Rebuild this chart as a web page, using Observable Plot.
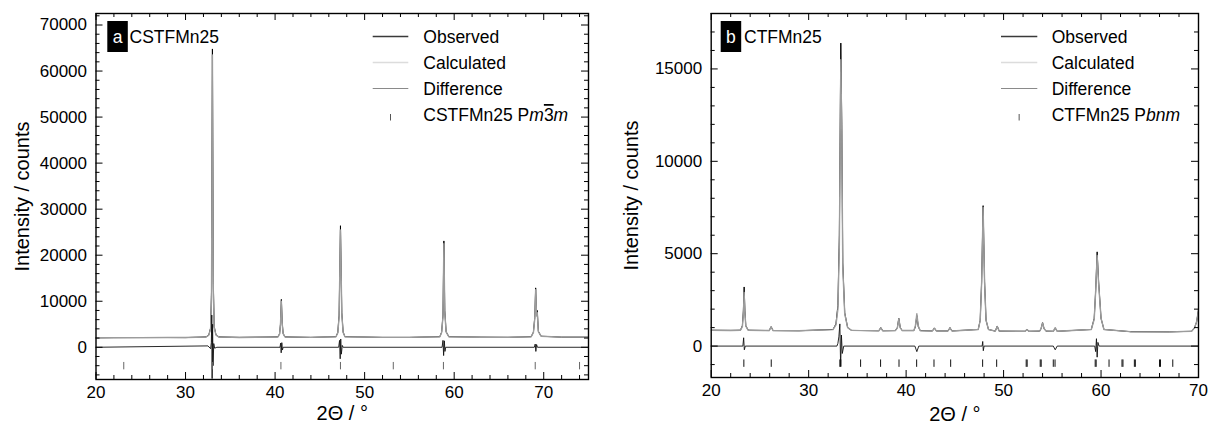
<!DOCTYPE html>
<html><head><meta charset="utf-8">
<script src="https://cdn.jsdelivr.net/npm/d3@7"></script>
<script src="https://cdn.jsdelivr.net/npm/@observablehq/plot@0.6"></script>
<style>
body{margin:0;background:#fff;}
#wrap{display:flex;width:1216px;height:426px;overflow:hidden;}
svg{display:block;}
</style></head><body><div id="wrap"></div>
<script>
// ---------- Panel a: CSTFMn25 (Pm-3m) ----------
const thetaA = [20,22,25,28,30,32.3,32.6,32.8,32.9,33.0,33.1,33.2,33.4,33.7,36,40.3,40.5,40.6,40.7,40.8,40.9,41.1,44,46.8,47.0,47.15,47.3,47.45,47.6,47.8,52,55,58.4,58.6,58.75,58.85,58.95,59.1,59.4,63,66,68.6,68.85,69.0,69.1,69.2,69.28,69.4,69.7,72,75];
const obsA   = [2050,2080,2100,2120,2100,2250,2700,4200,12000,64800,14000,4500,2700,2250,2150,2250,2900,5000,10400,5200,3000,2250,2150,2300,3200,7000,26400,7500,3300,2300,2150,2150,2300,3300,7000,23100,8000,3400,2300,2200,2150,2300,3300,6500,12900,7000,8000,3500,2400,2200,2200];
const calcA  = [2080,2090,2100,2110,2110,2240,2650,4000,11000,63500,12500,4300,2650,2250,2130,2230,2850,4800,10000,5000,2950,2250,2140,2280,3100,6600,25500,7200,3200,2300,2150,2160,2290,3200,6700,22500,7600,3300,2300,2180,2180,2300,3200,6200,12500,6800,7500,3400,2400,2200,2200];
const diffThetaA = [20,32.5,32.8,32.88,32.93,32.97,33.02,33.07,33.15,33.25,33.5,40.55,40.62,40.68,40.75,40.82,40.9,47.1,47.2,47.27,47.33,47.4,47.5,47.6,58.65,58.75,58.82,58.9,58.97,59.05,68.95,69.05,69.12,69.2,69.3,75];
const diffA      = [0,300,-300,1000,7000,-6800,5000,-4000,800,-200,0,0,900,-1200,1000,-600,0,0,1500,-2500,1800,-1500,400,0,0,1500,-1800,1400,-900,0,0,700,-900,600,0,0];
const reflA = [23.1,33.0,40.65,47.3,53.2,58.8,69.05,74.0];
const xMajorA = [20,30,40,50,60,70];
const xMinorA = [22,24,26,28,32,34,36,38,42,44,46,48,52,54,56,58,62,64,66,68,72,74];
const yMajorA = [0,10000,20000,30000,40000,50000,60000,70000];
const yMinorA = [-6000,-4000,-2000,2000,4000,6000,8000,12000,14000,16000,18000,22000,24000,26000,28000,32000,34000,36000,38000,42000,44000,46000,48000,52000,54000,56000,58000,62000,64000,66000,68000,72000];

// ---------- Panel b: CTFMn25 (Pbnm) ----------
const thetaB = [20,22,23.0,23.2,23.3,23.38,23.46,23.55,23.8,25.95,26.15,26.35,29,32.5,32.8,33.0,33.15,33.3,33.4,33.5,33.7,34.0,34.4,37.2,37.4,37.6,38.9,39.1,39.25,39.4,39.6,40.8,40.95,41.1,41.25,41.45,42.7,42.9,43.1,44.3,44.5,44.7,47.4,47.6,47.75,47.9,48.05,48.2,48.45,49.15,49.35,49.55,52.2,52.4,52.6,53.7,53.85,54.0,54.15,54.35,55.1,55.3,55.5,59.0,59.3,59.45,59.6,59.75,60.0,60.3,63,67,69.3,69.6,69.8,70];
const obsB   = [860,850,860,1100,1900,3200,1900,1100,860,840,1050,840,830,900,1200,2200,6000,16400,12000,4500,1800,1000,850,830,1000,830,840,1000,1500,1000,840,840,1050,1650,1050,835,820,980,820,820,1000,820,900,1400,3500,7600,3500,1400,900,810,1080,810,800,900,800,810,950,1270,950,810,800,980,800,900,1500,3000,5100,3500,1500,900,780,770,800,1000,1300,1950];
const calcB  = [850,845,860,1050,1750,2900,1800,1080,855,840,1040,840,830,890,1150,2000,5500,15500,11500,4300,1750,1000,850,830,980,830,840,990,1480,990,840,840,1100,1750,1080,835,820,970,820,820,990,820,900,1380,3450,7500,3450,1400,900,810,1060,810,800,890,800,810,950,1250,950,810,800,1000,800,900,1450,3000,4900,3400,1500,900,780,770,800,1000,1300,1950];
const diffThetaB = [20,23.25,23.33,23.4,23.5,32.9,33.0,33.1,33.2,33.28,33.36,33.45,33.6,40.9,41.1,41.3,47.8,47.86,47.92,48.0,55.1,55.3,55.5,59.35,59.45,59.53,59.6,59.68,59.8,70];
const diffB      = [0,0,450,-200,0,0,150,500,1200,-1100,600,-400,0,0,-300,0,0,250,-250,0,0,-200,0,0,-300,400,-600,200,0,0];
const reflB = [23.35,26.16,33.2,33.3,35.33,37.38,39.27,41.08,42.86,44.57,47.85,49.29,52.32,52.42,53.76,53.86,55.1,55.28,59.4,59.5,60.82,62.15,62.25,63.42,63.52,66.0,66.1,67.36];
const xMajorB = [20,30,40,50,60,70];
const xMinorB = [22,24,26,28,32,34,36,38,42,44,46,48,52,54,56,58,62,64,66,68];
const yMajorB = [0,5000,10000,15000];
const yMinorB = [-1000,1000,2000,3000,4000,6000,7000,8000,9000,11000,12000,13000,14000,16000,17000,18000];

const legendLabels = ["Observed","Calculated","Difference"];
const FONT = "'Liberation Sans', Arial, Helvetica, sans-serif";

function makePanel(o) {
  const W = 608, H = 426;
  const iw = W - o.ml - o.mr, ih = H - o.mt - o.mb;
  const obs = o.theta.map((t, i) => ({t, v: o.obs[i]}));
  const calc = o.theta.map((t, i) => ({t, v: o.calc[i]}));
  const diff = o.dTheta.map((t, i) => ({t, v: o.diff[i]}));
  const svg = Plot.plot({
    width: W, height: H,
    marginLeft: o.ml, marginRight: o.mr, marginTop: o.mt, marginBottom: o.mb,
    style: {fontFamily: FONT, fontSize: "17px", background: "white", color: "black", overflow: "visible"},
    x: {domain: o.xDomain},
    y: {domain: o.yDomain},
    marks: [
      Plot.line(obs, {x: "t", y: "v", stroke: "#000", strokeWidth: 1, clip: true}),
      Plot.line(calc, {x: "t", y: "v", stroke: "#9c9c9c", strokeWidth: 1.4, clip: true}),
      Plot.line(diff, {x: "t", y: "v", stroke: "#111", strokeWidth: 0.9, clip: true}),
      Plot.ruleX(o.refl, {x: d => d, y1: o.reflTop, y2: o.reflBot, stroke: o.reflColor, strokeWidth: 1}),
      Plot.ruleX(o.xMajor, {x: d => d, insetTop: ih - 7, stroke: "black"}),
      Plot.ruleX(o.xMajor, {x: d => d, insetBottom: ih - 7, stroke: "black"}),
      Plot.ruleX(o.xMinor, {x: d => d, insetTop: ih - 4, stroke: "black"}),
      Plot.ruleX(o.xMinor, {x: d => d, insetBottom: ih - 4, stroke: "black"}),
      Plot.ruleY(o.yMajor, {y: d => d, insetRight: iw - 7, stroke: "black"}),
      Plot.ruleY(o.yMajor, {y: d => d, insetLeft: iw - 7, stroke: "black"}),
      Plot.ruleY(o.yMinor, {y: d => d, insetRight: iw - 4, stroke: "black"}),
      Plot.ruleY(o.yMinor, {y: d => d, insetLeft: iw - 4, stroke: "black"}),
      Plot.axisX(o.xMajor, {tickSize: 0, tickPadding: 6, fontSize: 17, label: null, tickFormat: d => String(d)}),
      Plot.axisY(o.yMajor, {tickSize: 0, tickPadding: 9, fontSize: 17, label: null, tickFormat: d => String(d)}),
      Plot.frame({stroke: "black", strokeWidth: 1.4}),
      Plot.text(["Intensity / counts"], {text: d => d, frameAnchor: "left", textAnchor: "middle", lineAnchor: "middle", dx: o.yTitleDx, rotate: -90, fontSize: 20}),
      Plot.text(["2\u0398 / \u00b0"], {text: d => d, frameAnchor: "bottom", textAnchor: "middle", lineAnchor: "middle", dy: o.xTitleDy, fontSize: 20})
    ]
  });
  const s = d3.select(svg);
  // panel label box
  s.append("rect").attr("x", o.boxX).attr("y", 21).attr("width", 20.5).attr("height", 31).attr("fill", "black");
  s.append("text").attr("x", o.boxX + 10.25).attr("y", 43).attr("text-anchor", "middle")
    .attr("fill", "white").attr("font-family", FONT).attr("font-size", 17.5).text(o.letter);
  s.append("text").attr("x", o.nameX).attr("y", 43).attr("text-anchor", "start").attr("font-family", FONT).attr("font-size", 17.5)
    .attr("fill", "black").text(o.name);
  // legend
  const lg = s.append("g").attr("font-family", FONT).attr("font-size", 17.5).attr("fill", "black").attr("text-anchor", "start");
  const lineStyles = [["#3a3a3a", 1.6], ["#dcdcdc", 1.6], ["#8a8a8a", 1.1]];
  const rowY = [43, 69, 95, 121];
  legendLabels.forEach((lab, i) => {
    lg.append("line").attr("x1", o.legLineX1).attr("x2", o.legLineX2)
      .attr("y1", rowY[i] - 6.5).attr("y2", rowY[i] - 6.5)
      .attr("stroke", lineStyles[i][0]).attr("stroke-width", lineStyles[i][1]);
    lg.append("text").attr("x", o.legTextX).attr("y", rowY[i]).attr("text-anchor", "start").text(lab);
  });
  lg.append("line").attr("x1", (o.legLineX1 + o.legLineX2) / 2).attr("x2", (o.legLineX1 + o.legLineX2) / 2)
    .attr("y1", rowY[3] - 7).attr("y2", rowY[3] - 0.5).attr("stroke", "#555").attr("stroke-width", 1);
  const t = lg.append("text").attr("x", o.legTextX).attr("y", rowY[3]).attr("text-anchor", "start");
  o.phase(t);
  return svg;
}

const wrap = document.getElementById("wrap");
wrap.appendChild(makePanel({
  theta: thetaA, obs: obsA, calc: calcA, dTheta: diffThetaA, diff: diffA,
  refl: reflA, reflTop: -3300, reflBot: -4900, reflColor: "#666",
  xMajor: xMajorA, xMinor: xMinorA, yMajor: yMajorA, yMinor: yMinorA,
  xDomain: [20, 75], yDomain: [-7000, 72500],
  ml: 95.5, mr: 20, mt: 13, mb: 47,
  yTitleDx: -73, xTitleDy: 34,
  boxX: 107.3, letter: "a", nameX: 129.5, name: "CSTFMn25",
  legLineX1: 372.7, legLineX2: 408.3, legTextX: 423.3,
  phase: t => {
    t.append("tspan").text("CSTFMn25 P");
    t.append("tspan").attr("font-style", "italic").text("m");
    t.append("tspan").attr("style", "text-decoration: overline").text("3");
    t.append("tspan").attr("font-style", "italic").text("m");
  }
}));
wrap.appendChild(makePanel({
  theta: thetaB, obs: obsB, calc: calcB, dTheta: diffThetaB, diff: diffB,
  refl: reflB, reflTop: -750, reflBot: -1150, reflColor: "#111",
  xMajor: xMajorB, xMinor: xMinorB, yMajor: yMajorB, yMinor: yMinorB,
  xDomain: [20, 70], yDomain: [-1700, 18000],
  ml: 102.7, mr: 18, mt: 13, mb: 49,
  yTitleDx: -80, xTitleDy: 37,
  boxX: 112.7, letter: "b", nameX: 136, name: "CTFMn25",
  legLineX1: 393, legLineX2: 429.3, legTextX: 443.7,
  phase: t => {
    t.append("tspan").text("CTFMn25 P");
    t.append("tspan").attr("font-style", "italic").text("bnm");
  }
}));
</script>
</body></html>
